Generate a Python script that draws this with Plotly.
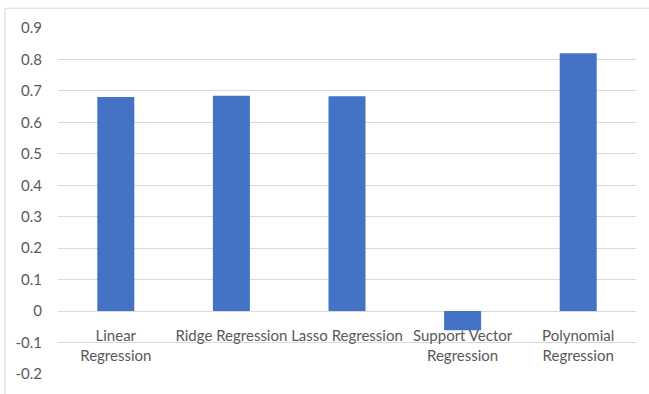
import plotly.graph_objects as go

# Model names and their scores
models = ["Linear Regression", "Ridge Regression", "Lasso Regression",
          "Support Vector Regression", "Polynomial Regression"]
scores = [0.681, 0.685, 0.683, -0.061, 0.820]
tick_labels = ["Linear<br>Regression", "Ridge Regression", "Lasso Regression",
               "Support Vector<br>Regression", "Polynomial<br>Regression"]
y_ticks = [-0.2, -0.1, 0, 0.1, 0.2, 0.3, 0.4, 0.5, 0.6, 0.7, 0.8, 0.9]
y_tick_text = ["-0.2", "-0.1", "0", "0.1", "0.2", "0.3", "0.4", "0.5",
               "0.6", "0.7", "0.8", "0.9"]

W, H = 649, 394
ML, MR, MT, MB = 58, 13, 28, 16
pw, ph = W - ML - MR, H - MT - MB
y_min, y_max = -0.2, 0.9

fig = go.Figure(go.Bar(
    x=models, y=scores,
    width=0.32,
    marker=dict(color="#4472C4", line=dict(color="#4472C4", width=0)),
))

grey_text = "#595959"
label_font = dict(family="Lato", size=15, color=grey_text)
fig.update_layout(
    width=W, height=H,
    margin=dict(l=ML, r=MR, t=MT, b=MB),
    paper_bgcolor="white", plot_bgcolor="white",
    showlegend=False,
    font=label_font,
    xaxis=dict(
        tickmode="array", tickvals=models, ticktext=tick_labels,
        anchor="free", position=(0 - y_min) / (y_max - y_min),
        showgrid=False, showline=False, ticks="", zeroline=False,
        ticklabelstandoff=14,
        tickfont=label_font,
    ),
    yaxis=dict(
        range=[y_min, y_max], tickmode="array",
        tickvals=y_ticks, ticktext=y_tick_text,
        showgrid=True, gridcolor="#d9d9d9", gridwidth=1,
        zeroline=False, showline=False, ticks="",
        ticklabelstandoff=15,
        tickfont=label_font,
    ),
)

# Chart-area border (top and left edges fall inside the page)
fig.add_shape(
    type="rect", xref="paper", yref="paper",
    x0=(5 - ML) / pw, x1=(W + 6 - ML) / pw,
    y0=-(H + 10 - MT - ph) / ph, y1=1 + (MT - 8) / ph,
    line=dict(color="#d9d9d9", width=1), fillcolor="rgba(0,0,0,0)",
    layer="below",
)

fig.write_html("out.html")
